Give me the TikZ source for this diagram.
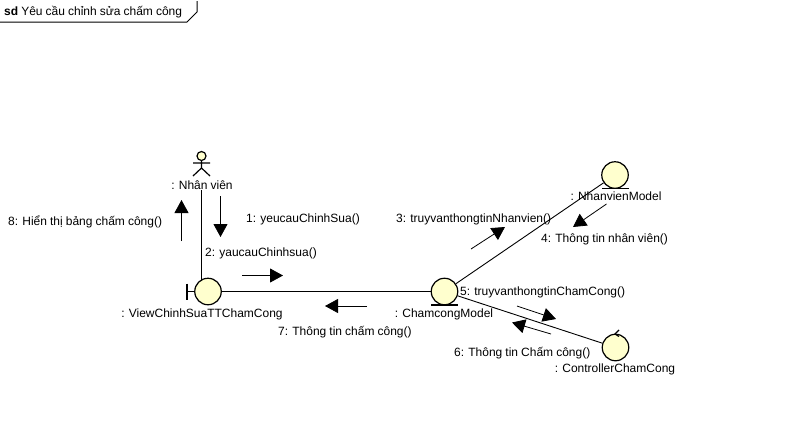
\documentclass[tikz,border=0pt]{standalone}
\usepackage{fontspec}
\setmainfont[WordSpace=0.92]{Liberation Sans}
\usetikzlibrary{arrows.meta}
\definecolor{objfill}{RGB}{255,255,206}
\tikzset{
  x=1pt,y=-1pt,
  obj/.style={circle,draw=black,fill=objfill,line width=1.2pt,minimum size=26.5pt,inner sep=0pt},
  lbl/.style={inner sep=0pt,font=\fontsize{12}{14}\selectfont,text=black,anchor=base},
  link/.style={draw=black,line width=.9pt},
  msg/.style={draw=black,line width=.8pt,-{Triangle[length=13pt,width=14pt]}},
  glyph/.style={draw=black,line width=1.2pt}
}
\begin{document}
\begin{tikzpicture}
\useasboundingbox (0,0) rectangle (792,440);
\fill[white] (0,0) rectangle (792,440);
% frame
\coordinate (f1) at (0,22); \coordinate (f2) at (187,22); \coordinate (f3) at (197,12); \coordinate (f4) at (197,1);
\draw[glyph,line width=1pt] (f1) -- (f2) -- (f3) -- (f4);
\node[lbl,anchor=base west] (title) at (4,15) {\textbf{sd} Yêu cầu chỉnh sửa chấm công};
% actor
\coordinate (actor) at (201.5,156);
\draw[glyph,fill=objfill] (actor) circle (4.5);
\draw[glyph] (201.5,160.5) -- (201.5,168) (193,163) -- (210,163) (193,176) -- (201.5,168) -- (210,176);
\node[lbl] (actorlbl) at (202,189) {: Nhân viên};
% links under objects
\coordinate (actorfoot) at (201.5,190);
\coordinate (viewtop) at (201.5,281);
\draw[link] (actorfoot) -- (viewtop);
% objects
\node[obj] (view) at (208,291.5) {};
\node[obj] (chamcong) at (444.5,291.5) {};
\node[obj] (nhanvien) at (615,175) {};
\node[obj] (controller) at (615.5,347.5) {};
% stereotypes
\draw[glyph] (view.west) -- (187,291.5) (187,283.5) -- (187,299.5);
\draw[glyph] (431,305) -- (458,305);
\draw[glyph] (602,188.5) -- (629,188.5);
\draw[glyph] (619,330) -- (615,334) -- (619,336.5);
% links
\draw[link] (view) -- (chamcong);
\draw[link] (chamcong) -- (nhanvien);
\draw[link] (chamcong) -- (controller);
% labels
\node[lbl,anchor=base west] (l1) at (246,222) {1: yeucauChinhSua()};
\node[lbl,anchor=base west] (l2) at (205,256) {2: yaucauChinhsua()};
\node[lbl,anchor=base west] (l3) at (396,222) {3: truyvanthongtinNhanvien()};
\node[lbl,anchor=base west] (l4) at (541,242) {4: Thông tin nhân viên()};
\node[lbl,anchor=base west] (l5) at (460,295) {5: truyvanthongtinChamCong()};
\node[lbl,anchor=base west] (l6) at (454,356) {6: Thông tin Chấm công()};
\node[lbl,anchor=base west] (l7) at (278,335) {7: Thông tin chấm công()};
\node[lbl,anchor=base west] (l8) at (8,225) {8: Hiển thị bảng chấm công()};
\node[lbl] (lview) at (202,317) {: ViewChinhSuaTTChamCong};
\node[lbl] (lcham) at (444,317) {: ChamcongModel};
\node[lbl] (lnhan) at (616,200) {: NhanvienModel};
\node[lbl] (lctrl) at (615,372) {: ControllerChamCong};
% messages
\coordinate (m1a) at (220.5,196); \coordinate (m1b) at (220.5,237);
\coordinate (m2a) at (242,275.5); \coordinate (m2b) at (283,275.5);
\coordinate (m3a) at (471,249); \coordinate (m3b) at (505,227);
\coordinate (m4a) at (606.5,204); \coordinate (m4b) at (573,227);
\coordinate (m5a) at (517,306); \coordinate (m5b) at (556,319);
\coordinate (m6a) at (551,334); \coordinate (m6b) at (512,322.5);
\coordinate (m7a) at (367,306); \coordinate (m7b) at (325,306);
\coordinate (m8a) at (181.5,241); \coordinate (m8b) at (181.5,200);
\foreach \a/\b in {m1a/m1b,m2a/m2b,m3a/m3b,m4a/m4b,m5a/m5b,m6a/m6b,m7a/m7b,m8a/m8b}
  \draw[msg] (\a) -- (\b);
\end{tikzpicture}
\end{document}
